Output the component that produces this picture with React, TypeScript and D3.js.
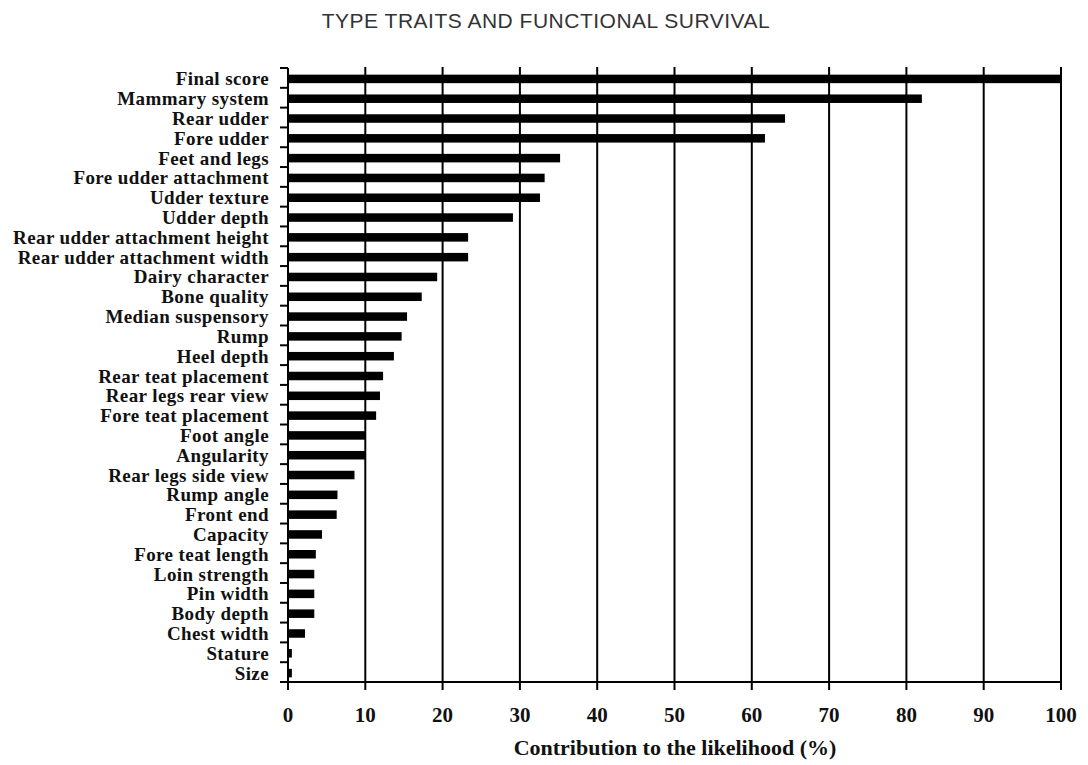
import React from "react";
import * as d3 from "d3";

const categories = [
  "Final score", "Mammary system", "Rear udder", "Fore udder", "Feet and legs",
  "Fore udder attachment", "Udder texture", "Udder depth",
  "Rear udder attachment height", "Rear udder attachment width",
  "Dairy character", "Bone quality", "Median suspensory", "Rump", "Heel depth",
  "Rear teat placement", "Rear legs rear view", "Fore teat placement",
  "Foot angle", "Angularity", "Rear legs side view", "Rump angle", "Front end",
  "Capacity", "Fore teat length", "Loin strength", "Pin width", "Body depth",
  "Chest width", "Stature", "Size",
];
const values = [
  100, 82.0, 64.3, 61.7, 35.2, 33.2, 32.6, 29.1, 23.3, 23.3,
  19.3, 17.3, 15.4, 14.7, 13.7, 12.3, 11.9, 11.4, 10.0, 10.0,
  8.6, 6.4, 6.3, 4.4, 3.6, 3.4, 3.4, 3.4, 2.2, 0.5, 0.5,
];
const xTicks = [0, 10, 20, 30, 40, 50, 60, 70, 80, 90, 100];
const title = "TYPE TRAITS AND FUNCTIONAL SURVIVAL";
const xTitle = "Contribution to the likelihood (%)";

export default function App() {
  const W = 1088, H = 765;
  const left = 288, right = 1061, top = 68, bottom = 682;
  const x = d3.scaleLinear().domain([0, 100]).range([left, right]);
  const y = d3.scaleBand<string>().domain(categories).range([top, bottom]).paddingInner(0.57).paddingOuter(0.285);
  const step = y.step();
  const bounds = d3.range(categories.length).map((i) => top + i * step);
  const serif = "'Liberation Serif', 'Times New Roman', serif";
  return (
    <svg width={W} height={H} style={{ position: "absolute", left: 0, top: 0, background: "#fff" }}>
      <text x={546} y={28} textAnchor="middle" fontFamily="'Liberation Sans', Arial, sans-serif" fontSize={21} letterSpacing={0.5} fill="#333">{title}</text>
      {/* bars */}
      {categories.map((c, i) => (
        <rect key={c} x={x(0)} y={(y(c) as number) + 1} width={x(values[i]) - x(0)} height={y.bandwidth()} fill="#000" />
      ))}
      {/* gridlines and x ticks */}
      {xTicks.map((t) => (
        <line key={t} x1={x(t)} x2={x(t)} y1={t === 0 ? top : top - 1} y2={bottom + 8} stroke="#000" strokeWidth={2} />
      ))}
      {/* y axis ticks */}
      {bounds.map((b, i) => (
        <line key={i} x1={left - 8} x2={left} y1={b} y2={b} stroke="#000" strokeWidth={2} />
      ))}
      <line x1={left - 8} x2={right + 1} y1={bottom} y2={bottom} stroke="#000" strokeWidth={2} />
      {/* y labels */}
      {categories.map((c) => (
        <text key={c} x={269} y={(y(c) as number) + y.bandwidth() / 2 + 1} dominantBaseline="central" textAnchor="end" fontFamily={serif} fontWeight="bold" fontSize={19} letterSpacing={0.4} fill="#111">{c}</text>
      ))}
      {/* x tick labels */}
      {xTicks.map((t) => (
        <text key={t} x={x(t)} y={722} textAnchor="middle" fontFamily={serif} fontWeight="bold" fontSize={21} fill="#111">{t}</text>
      ))}
      <text x={675} y={755} textAnchor="middle" fontFamily={serif} fontWeight="bold" fontSize={22} fill="#111">{xTitle}</text>
    </svg>
  );
}
